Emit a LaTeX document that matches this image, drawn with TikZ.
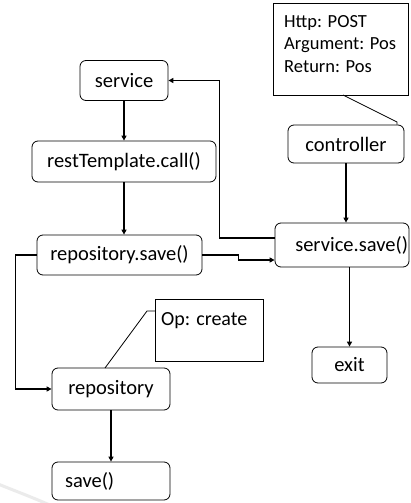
\documentclass[tikz,border=0pt]{standalone}
\usepackage{fontspec}
\setmainfont{Carlito}
\usetikzlibrary{arrows.meta,calc}
\begin{document}
\begin{tikzpicture}[x=1pt,y=-1pt,
  box/.style={draw=black, line width=0.8pt, rounded corners=6pt, inner sep=0pt,
    font=\fontsize{20.5pt}{24pt}\selectfont},
  notebox/.style={draw=black, line width=0.8pt, inner sep=0pt, anchor=north west},
  notetxt/.style={inner sep=0pt, anchor=base west},
  arr/.style={line width=1.6pt, -{Triangle[length=5pt,width=5pt]}},
  call/.style={line width=0.8pt}]
\useasboundingbox (0,0) rectangle (410,503);
\fill[white] (0,0) rectangle (410,503);
% faint watermark arc
\draw[black!8, line width=3pt] (-2,484) .. controls (18,492) and (34,498) .. (52,506);

\node[box, minimum width=88pt, minimum height=40pt] (service) at (124,80.5) {service};
\node[box, minimum width=184pt, minimum height=41pt] (restT) at (124,161.5) {restTemplate.call()};
\node[box, minimum width=165pt, minimum height=40pt] (repoSave) at (119.5,255) {repository.save()};
\node[box, minimum width=134pt, minimum height=44pt, text width=132pt, align=right, inner xsep=1pt] (serviceSave) at (342,245) {service.save()};
\node[box, minimum width=116pt, minimum height=38pt] (controller) at (346,144) {controller};
\node[box, minimum width=75pt, minimum height=36pt] (exit) at (349.5,365) {exit};
\node[box, minimum width=118pt, minimum height=42pt] (repository) at (111,389) {repository};
\node[box, minimum width=118pt, minimum height=38pt, text width=92pt, align=left, inner xsep=13pt] (save) at (111,481) {save()};

% notes
\node[notebox, minimum width=135pt, minimum height=92pt] (note1) at (273,3) {};
\node[notetxt, font=\fontsize{18.5pt}{22pt}\selectfont] (n1a) at (284,28) {Http: POST};
\node[notetxt, font=\fontsize{18.5pt}{22pt}\selectfont] (n1b) at (284,50) {Argument: Pos};
\node[notetxt, font=\fontsize{18.5pt}{22pt}\selectfont] (n1c) at (284,72) {Return: Pos};
\node[notebox, minimum width=108pt, minimum height=62pt] (note2) at (155,299) {};
\node[notetxt, font=\fontsize{20pt}{24pt}\selectfont] (n2a) at (161,325) {Op: create};

% callouts
\coordinate (c1a) at (343,95);
\coordinate (c1b) at (397,122);
\draw[call] (c1a) -- (c1b) -- (c1b |- controller.north);
\coordinate (c2a) at (147,311);
\coordinate (c2b) at (105,368);
\draw[call] (note2.west |- c2a) -- (c2a) -- (c2b);

% arrows
\draw[arr] (service.south) -- (service.south |- restT.north);
\draw[arr] (restT.south) -- (restT.south |- repoSave.north);
\draw[arr] (controller.south) -- (controller.south |- serviceSave.north);
\draw[arr] (exit.north |- serviceSave.south) -- (exit.north);
\draw[arr] (repository.south) -- (repository.south |- save.north);
\draw[arr] ([yshift=7pt]serviceSave.west) -- ++(-55,0) |- (service.east);
\draw[arr] (repoSave.east) -- ++(36,0) |- ([yshift=-15pt]serviceSave.west);
\draw[arr] (repoSave.west) -- ++(-21,0) |- (repository.west);
\end{tikzpicture}
\end{document}
